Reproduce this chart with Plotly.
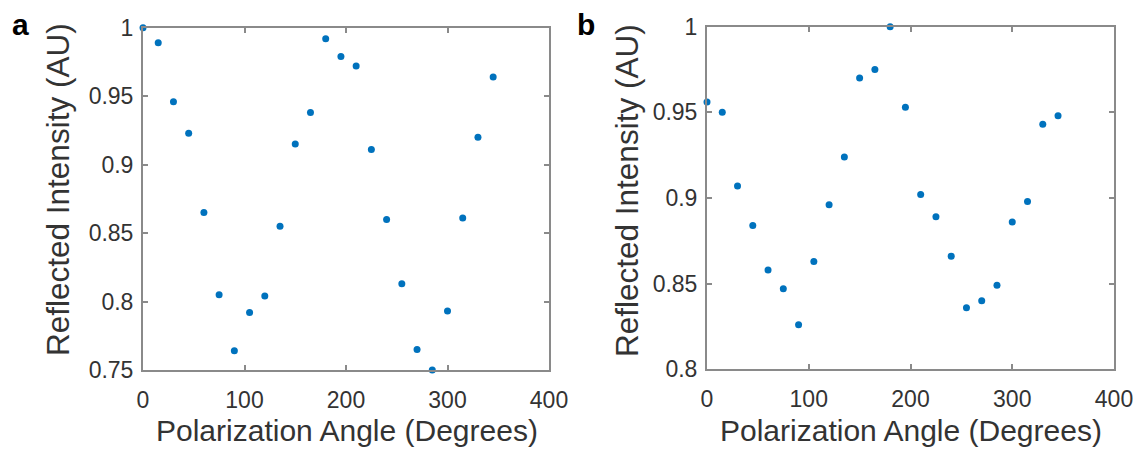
import plotly.graph_objects as go

angles = [0, 15, 30, 45, 60, 75, 90, 105, 120, 135, 150, 165, 180, 195, 210,
          225, 240, 255, 270, 285, 300, 315, 330, 345]
intensity_a = [1.000, 0.989, 0.946, 0.923, 0.865, 0.805, 0.764, 0.792, 0.804,
               0.855, 0.915, 0.938, 0.992, 0.979, 0.972, 0.911, 0.860, 0.813,
               0.765, 0.750, 0.793, 0.861, 0.920, 0.964]
intensity_b = [0.956, 0.950, 0.907, 0.884, 0.858, 0.847, 0.826, 0.863, 0.896,
               0.924, 0.970, 0.975, 1.000, 0.953, 0.902, 0.889, 0.866, 0.836,
               0.840, 0.849, 0.886, 0.898, 0.943, 0.948]
x_ticks = [0, 100, 200, 300, 400]
y_ticks_a = [0.75, 0.8, 0.85, 0.9, 0.95, 1]
y_ticks_b = [0.8, 0.85, 0.9, 0.95, 1]

# page body has an 8px margin; figure sized to fit the window exactly
OFF = 8
W, H = 1141 - OFF, 451 - OFF
BLUE = "#0072BD"
LINE = "#8a8a8a"
TEXT = "#333333"
FONT = "Liberation Sans, Arial, sans-serif"

fig = go.Figure()
fig.add_trace(go.Scatter(x=angles, y=intensity_a, mode="markers",
                         marker=dict(color=BLUE, size=7), cliponaxis=False,
                         xaxis="x", yaxis="y", showlegend=False))
fig.add_trace(go.Scatter(x=angles, y=intensity_b, mode="markers",
                         marker=dict(color=BLUE, size=7), cliponaxis=False,
                         xaxis="x2", yaxis="y2", showlegend=False))

def px_x(p):
    return (p - OFF) / W

def px_y(p):
    return 1 - (p - OFF) / H

common = dict(showline=True, linecolor=LINE, linewidth=2, mirror="ticks",
              ticks="inside", ticklen=5, tickwidth=1.5, tickcolor=LINE,
              showgrid=False, zeroline=False, automargin=False,
              tickfont=dict(family=FONT, size=23, color=TEXT))
xcommon = dict(common, ticklabelstandoff=8)
ycommon = dict(common, ticklabelstandoff=3)

fig.update_layout(
    width=W, height=H,
    margin=dict(l=0, r=0, t=0, b=0),
    plot_bgcolor="white", paper_bgcolor="white",
    xaxis=dict(domain=[px_x(143), px_x(549)], range=[0, 400],
               tickvals=x_ticks, ticktext=[str(v) for v in x_ticks],
               anchor="y", **xcommon),
    yaxis=dict(domain=[px_y(370), px_y(27.7)], range=[0.75, 1],
               tickvals=y_ticks_a, ticktext=[f"{v:g}" for v in y_ticks_a],
               anchor="x", **ycommon),
    xaxis2=dict(domain=[px_x(707), px_x(1114)], range=[0, 400],
                tickvals=x_ticks, ticktext=[str(v) for v in x_ticks],
                anchor="y2", **xcommon),
    yaxis2=dict(domain=[px_y(369.3), px_y(26.7)], range=[0.8, 1],
                tickvals=y_ticks_b, ticktext=[f"{v:g}" for v in y_ticks_b],
                anchor="x2", **ycommon),
)

xt_font = dict(family=FONT, size=30, color=TEXT)
yt_font = dict(family=FONT, size=31.5, color=TEXT)
annots = [
    dict(text="Polarization Angle (Degrees)", x=px_x(347), y=px_y(430), font=xt_font),
    dict(text="Polarization Angle (Degrees)", x=px_x(911), y=px_y(430), font=xt_font),
    dict(text="Reflected Intensity (AU)", x=px_x(58), y=px_y(190),
         textangle=-90, font=yt_font),
    dict(text="Reflected Intensity (AU)", x=px_x(627), y=px_y(190),
         textangle=-90, font=yt_font),
]
for a in annots:
    fig.add_annotation(xref="paper", yref="paper", showarrow=False,
                       xanchor="center", yanchor="middle", **a)

for lab, xp in (("a", 20), ("b", 586)):
    fig.add_annotation(text=f"<b>{lab}</b>", xref="paper", yref="paper",
                       x=px_x(xp), y=px_y(24), showarrow=False,
                       xanchor="center", yanchor="middle",
                       font=dict(family=FONT, size=30, color="black"))

fig.write_html("out.html")
